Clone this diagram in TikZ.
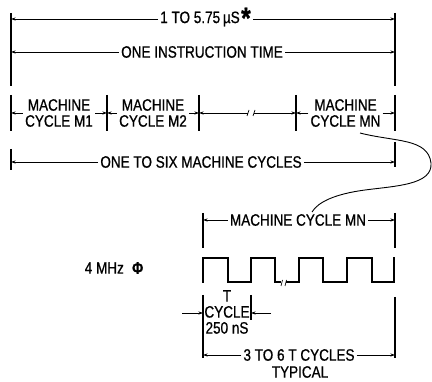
\documentclass[tikz,border=0pt]{standalone}
\usepackage{fontspec}
\setmainfont{Liberation Sans}[FakeStretch=0.82,FakeBold=0.8]
\usetikzlibrary{positioning,arrows.meta,calc}

\begin{document}
\begin{tikzpicture}[x=1pt,y=-1pt,
  font=\fontsize{16.5}{16}\selectfont,>={Stealth[length=4.5pt,width=3pt]},
  dim/.style={line width=0.7pt},
  bar/.style={line width=1.3pt},
  wave/.style={line width=1.8pt,line join=miter,line cap=rect},
  lbl/.style={inner sep=2pt,align=center},
]
\useasboundingbox (0,0) rectangle (432,382);
% instruction time
\coordinate (tl) at (11,13); \coordinate (tr) at (395,13);
\draw[bar] (tl) -- (11,86);
\draw[bar] (tr) -- (395,86);
\node[lbl] (total) at (200,19) {1 TO 5.75\,µS};
\node[lbl,anchor=west,inner sep=0pt,font=\fontsize{30}{30}\selectfont\bfseries] (star) at ([xshift=-1pt,yshift=1pt]total.east) {*};
\draw[dim,->] (total.west) -- (total.west -| tl);
\draw[dim,->] ([xshift=2pt]star.east |- total.east) -- (total.east -| tr);
\node[lbl] (instr) at (202,52) {ONE INSTRUCTION TIME};
\draw[dim,->] (instr.west) -- (instr.west -| tl);
\draw[dim,->] (instr.east) -- (instr.east -| tr);
% machine cycles
\foreach \x [count=\i] in {11,107,199,296,395}{
  \coordinate (b\i) at (\x,113);
  \draw[bar] ([yshift=18pt]b\i) -- ([yshift=-18pt]b\i);
}
\foreach \i/\j/\lab in {1/2/M1,2/3/M2,4/5/MN}{
  \node[lbl] (m\i) at ($(b\i)!0.5!(b\j)$) {MACHINE\\CYCLE \lab};
  \draw[dim,->] (m\i) -- (b\i);
  \draw[dim,->] (m\i) -- (b\j);
}
\coordinate (brk) at (251,113);
\draw[dim,->] ([xshift=-3pt]brk) -- (b3);
\draw[dim,->] ([xshift=3pt]brk) -- (b4);
\draw[dim] ([xshift=-4pt,yshift=-3pt]brk) -- ([xshift=-2pt,yshift=3pt]brk);
\draw[dim] ([xshift=2pt,yshift=-3pt]brk) -- ([xshift=4pt,yshift=3pt]brk);
\coordinate (sl) at (11,162); \coordinate (sr) at (395,162);
\draw[bar] (11,149) -- (11,170);
\draw[bar] (395,142) -- (395,167);
\node[lbl] (six) at (201,162) {ONE TO SIX MACHINE CYCLES};
\draw[dim,->] (six) -- (sl);
\draw[dim,->] (six) -- (sr);
% pointer to the enlarged cycle
\coordinate (cs) at (360,133); \coordinate (ce) at (312,212);
\draw[line width=0.9pt] (cs) .. controls (395,142) and (428,138) .. (431,163)
  .. controls (433,185) and (395,186) .. (365,190)
  .. controls (335,194) and (318,202) .. (ce);
% machine cycle MN
\coordinate (ml) at (203,220); \coordinate (mr) at (395,220);
\draw[bar] (203,213) -- (203,248);
\draw[bar] (395,213) -- (395,248);
\node[lbl] (mn) at (298,220) {MACHINE CYCLE MN};
\draw[dim,->] (mn) -- (ml);
\draw[dim,->] (mn) -- (mr);
\node[lbl] (clk) at (114,268) {4 MHz\enspace\textbf{Φ}};
\draw[wave] (203,282) -- (203,258) -- (228,258) -- (228,282) -- (251,282) -- (251,258)
  -- (275,258) -- (275,282) -- (280,282);
\draw[wave] (287,282) -- (299,282) -- (299,258) -- (323,258) -- (323,282) -- (347,282)
  -- (347,258) -- (372,258) -- (372,282) -- (394,282) -- (394,258);
\draw[dim] (281,286) -- (282.5,280);
\draw[dim] (285,286) -- (286.5,280);
% T cycle
\node[lbl] (tcyc) at (227,312) {T\\CYCLE\\250 nS};
\coordinate (ta) at (182,313); \coordinate (tb) at (271,313);
\coordinate (tl2) at (203,313); \coordinate (tr2) at (251,313);
\draw[bar] (203,295) -- (203,358);
\draw[bar] (251,295) -- (251,320);
\draw[dim,->] (ta) -- (tl2);
\draw[dim,->] (tb) -- (tr2);
\coordinate (bl) at (203,355); \coordinate (br) at (395,355);
\draw[bar] (395,297) -- (395,358);
\node[lbl] (typ) at (299,355) {3 TO 6 T CYCLES};
\node[lbl] (typ2) at (300,372) {TYPICAL};
\draw[dim,->] (typ) -- (bl);
\draw[dim,->] (typ) -- (br);
\end{tikzpicture}
\end{document}
